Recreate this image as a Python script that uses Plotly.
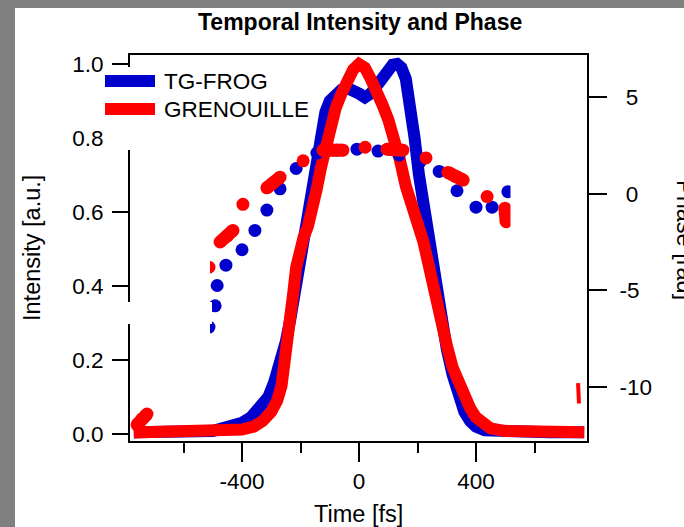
import plotly.graph_objects as go

# --- data --------------------------------------------------------------
# intensity, TG-FROG (left axis)
time_frog = [-770, -700, -600, -500, -470, -430, -400, -370, -340, -310, -290, -270,
             -250, -235, -220, -205, -190, -175, -160, -145, -130, -115, -100, -80,
             -60, -40, -20, 0, 20, 40, 60, 80, 100, 115, 130, 145, 160, 175, 190,
             205, 220, 235, 250, 265, 280, 300, 320, 340, 360, 380, 400, 430, 480,
             550, 650, 770]
int_frog = [0.005, 0.005, 0.005, 0.008, 0.015, 0.022, 0.03, 0.045, 0.07, 0.10, 0.14, 0.19,
            0.25, 0.31, 0.38, 0.46, 0.54, 0.62, 0.70, 0.77, 0.83, 0.87, 0.90, 0.92,
            0.93, 0.935, 0.93, 0.92, 0.91, 0.92, 0.94, 0.965, 0.985, 0.998, 1.0, 0.99,
            0.96, 0.90, 0.80, 0.70, 0.62, 0.54, 0.45, 0.37, 0.30, 0.23, 0.16, 0.10,
            0.06, 0.035, 0.02, 0.01, 0.008, 0.006, 0.005, 0.005]

# intensity, GRENOUILLE (left axis)
time_gren = [-770, -700, -600, -500, -450, -400, -360, -330, -300, -280, -265, -255,
             -245, -235, -225, -215, -205, -190, -175, -160, -145, -130, -115, -100,
             -80, -60, -40, -20, 0, 20, 40, 60, 80, 100, 120, 140, 160, 180, 200, 220,
             240, 260, 280, 300, 320, 340, 360, 380, 400, 420, 450, 500, 600, 770]
int_gren = [0.004, 0.004, 0.004, 0.006, 0.008, 0.012, 0.02, 0.035, 0.06, 0.09, 0.13, 0.18,
            0.24, 0.31, 0.38, 0.45, 0.50, 0.53, 0.56, 0.60, 0.66, 0.72, 0.78, 0.83,
            0.88, 0.92, 0.96, 0.985, 1.0, 0.99, 0.96, 0.93, 0.89, 0.85, 0.80, 0.74,
            0.67, 0.62, 0.58, 0.52, 0.45, 0.37, 0.30, 0.24, 0.18, 0.14, 0.10, 0.07,
            0.045, 0.03, 0.015, 0.008, 0.005, 0.005]

# phase, TG-FROG (right axis, dotted)
tph_frog = [-513, -492, -485, -455, -400, -356, -315, -270, -215, -144, -75, -7, 65,
            137, 209, 274, 335, 400, 455, 509]
ph_frog = [-6.9, -5.8, -4.75, -3.7, -2.9, -1.9, -0.85, 0.25, 1.3, 2.1, 2.25, 2.3, 2.2,
           2.0, 1.65, 1.15, 0.15, -0.7, -0.7, 0.1]

# phase, GRENOUILLE (right axis, dots and dashes; None splits the dashes)
tph_gren = [-513, None, -475, -451, -431, None, -397, None, -315, -294, -270, None,
            -191, None, -123, -89, -55, None, 21, None, 96, 123, 150, None, 229, None,
            304, 328, 356, None, 438, None, 499, 503, None, -759, -742, -725]
ph_gren = [-3.8, None, -2.5, -2.2, -1.9, None, -0.55, None, 0.3, 0.55, 0.85, None,
           1.7, None, 2.25, 2.25, 2.25, None, 2.4, None, 2.3, 2.3, 2.25, None, 1.85, None,
           1.1, 0.9, 0.7, None, -0.15, None, -0.75, -1.45, None, -11.95, -11.65, -11.4]
tph_gren_end = [749, 752]
ph_gren_end = [-9.8, -10.85]

series_names = ["TG-FROG", "GRENOUILLE"]
x_ticks = [-400, 0, 400]
x_ticktext = ["-400", "0", "400"]
x_minor = [-600, -200, 200, 600]
y_ticks = [0.0, 0.2, 0.4, 0.6, 0.8, 1.0]
y2_ticks = [-10, -5, 0, 5]
y2_ticktext = ["-10", "-5", "\u20080", "\u20085"]

BLUE = "#0000CD"
RED = "#FF0000"
FONT = "Liberation Sans, Arial, sans-serif"

# plot area in pixels: left 130, right 587, top 55, bottom 441
def px(x):
    return (x - 130) / 457

def py(y):
    return (441 - y) / 386

fig = go.Figure()
fig.add_trace(go.Scatter(x=time_frog, y=int_frog, mode="lines",
                         line=dict(color=BLUE, width=12), yaxis="y"))
fig.add_trace(go.Scatter(x=time_gren, y=int_gren, mode="lines",
                         line=dict(color=RED, width=12), yaxis="y"))
fig.add_trace(go.Scatter(x=tph_frog, y=ph_frog, mode="markers",
                         marker=dict(color=BLUE, size=13, line=dict(width=0)), yaxis="y2"))
fig.add_trace(go.Scatter(x=tph_gren, y=ph_gren, mode="lines+markers", connectgaps=False,
                         line=dict(color=RED, width=13),
                         marker=dict(color=RED, size=13, line=dict(width=0)), yaxis="y2"))
fig.add_trace(go.Scatter(x=tph_gren_end, y=ph_gren_end, mode="lines",
                         line=dict(color=RED, width=4), yaxis="y2"))

axis_common = dict(showline=True, linewidth=2, linecolor="black", showgrid=False,
                   zeroline=False, ticks="outside", tickwidth=2, tickcolor="black",
                   tickfont=dict(size=22.5, color="black", family=FONT))

fig.update_layout(
    width=684, height=527,
    margin=dict(l=130, r=97, t=55, b=86),
    paper_bgcolor="white", plot_bgcolor="white",
    showlegend=False,
    font=dict(family=FONT, color="black"),
    xaxis=dict(range=[-783, 779.5], tickmode="array", tickvals=x_ticks,
               ticktext=x_ticktext, ticklen=19, mirror=True,
               minor=dict(tickmode="array", tickvals=x_minor, ticks="outside",
                          ticklen=10, tickwidth=2, tickcolor="black", showgrid=False),
               **axis_common),
    yaxis=dict(range=[-0.0189, 1.0243], tickmode="array", tickvals=y_ticks,
               tickformat=".1f", ticklen=16, mirror=True, ticklabelstandoff=4,
               **axis_common),
    yaxis2=dict(range=[-12.79, 7.17], overlaying="y", side="right", tickmode="array",
                tickvals=y2_ticks, ticktext=y2_ticktext, ticklen=18,
                ticklabelstandoff=8, **axis_common),
)

shapes = [
    # grey frame of the screenshot
    dict(type="rect", x0=px(0), x1=px(684), y0=py(8), y1=py(-5)),
    dict(type="rect", x0=px(-5), x1=px(15), y0=py(530), y1=py(0)),
]
for s in shapes:
    s.update(xref="paper", yref="paper", fillcolor="#808080", line=dict(width=0),
             layer="above")

masks = [
    (106, 140, 67, 150),   # legend background over the axis
    (120, 212, 302, 324),  # gap in the left axis
    (135, 210, 250, 345),  # clipped phase dots, left
    (510.5, 575, 160, 240),  # clipped phase dots, right
]
for x0, x1, y0, y1 in masks:
    shapes.append(dict(type="rect", xref="paper", yref="paper", x0=px(x0), x1=px(x1),
                       y0=py(y1), y1=py(y0), fillcolor="white", line=dict(width=0),
                       layer="above"))

# legend drawn by hand
for name, color, ly in zip(series_names, [BLUE, RED], [81, 109]):
    shapes.append(dict(type="line", xref="paper", yref="paper", x0=px(105), x1=px(155),
                       y0=py(ly), y1=py(ly), line=dict(color=color, width=12),
                       layer="above"))
fig.update_layout(shapes=shapes)

annotations = [
    dict(text="<b>Temporal Intensity and Phase</b>", x=px(359.5), y=py(22),
         font=dict(size=23)),
    dict(text="Time [fs]", x=px(358), y=py(514), font=dict(size=23.5)),
    dict(text="Intensity [a.u.]", x=px(32), y=py(248), textangle=-90,
         font=dict(size=23.5)),
    dict(text="Phase [rad]", x=px(685), y=py(240), textangle=90,
         font=dict(size=23.5)),
]
for name, ly in zip(series_names, [81, 109]):
    annotations.append(dict(text=name, x=px(162), y=py(ly), xanchor="left",
                            font=dict(size=22.5)))
for a in annotations:
    a.setdefault("xanchor", "center")
    a.update(xref="paper", yref="paper", yanchor="middle", showarrow=False)
    a["font"].update(family=FONT, color="black")
fig.update_layout(annotations=annotations)

# page margin off, so the figure sits at the window's top-left corner
fig.write_html("out.html", config={"displayModeBar": False},
               post_script="document.body.style.margin='0';document.body.style.overflow='hidden';")
